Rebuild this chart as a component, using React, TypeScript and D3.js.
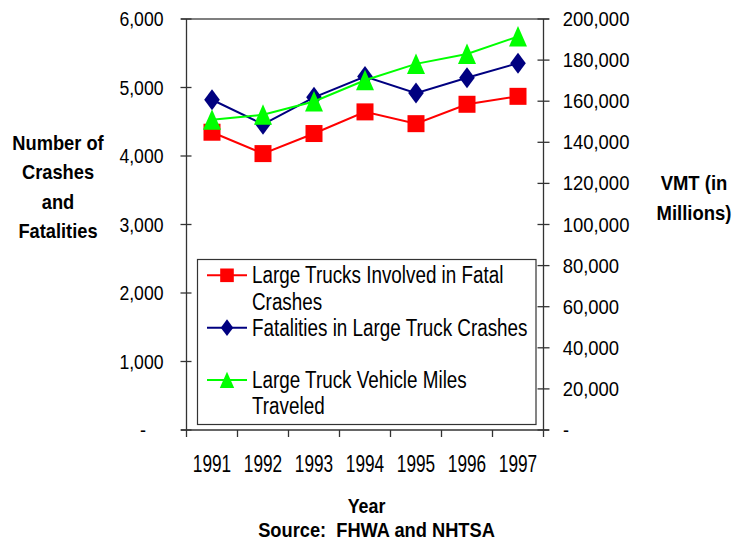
import React from 'react';
import * as d3 from 'd3';

const years = ['1991', '1992', '1993', '1994', '1995', '1996', '1997'];
const truckCrashes = [4347, 4035, 4328, 4644, 4472, 4755, 4871];
const fatalities = [4821, 4462, 4856, 5160, 4918, 5142, 5355];
const vmtMillions = [151000, 153384, 159888, 170216, 178156, 182971, 191477];
const leftTicks = [0, 1000, 2000, 3000, 4000, 5000, 6000];
const rightTicks = [0, 20000, 40000, 60000, 80000, 100000, 120000, 140000, 160000, 180000, 200000];
const legendLabels = [
  ['Large Trucks Involved in Fatal', 'Crashes'],
  ['Fatalities in Large Truck Crashes'],
  ['Large Truck Vehicle Miles', 'Traveled'],
];
const leftTitle = ['Number of', 'Crashes', 'and', 'Fatalities'];
const rightTitle = ['VMT (in', 'Millions)'];
const xTitle = 'Year';
const sourceText = 'Source:  FHWA and NHTSA';

const FONT = "'Liberation Sans', Arial, sans-serif";

const T = ({ x, y, size, anchor = 'start', bold = false, sx = 1, children }: any) => (
  <text
    transform={`translate(${x},${y}) scale(${sx},1)`}
    fontSize={size}
    textAnchor={anchor}
    fontWeight={bold ? 'bold' : 'normal'}
    fontFamily={FONT}
    fill="#000"
    style={{ whiteSpace: 'pre' }}
  >
    {children}
  </text>
);

type Shape = 'square' | 'diamond' | 'triangle';

const Marker = ({ shape, x, y, color, s = 1 }: { shape: Shape; x: number; y: number; color: string; s?: number }) => {
  if (shape === 'square') {
    const h = 8.5 * s;
    return <rect x={x - h} y={y - h} width={2 * h} height={2 * h} fill={color} />;
  }
  if (shape === 'diamond') {
    const w = 7.8 * s, h = 10.5 * s;
    return <path d={`M${x},${y - h}L${x + w},${y}L${x},${y + h}L${x - w},${y}Z`} fill={color} />;
  }
  const w = 9 * s, h = 10.5 * s;
  return <path d={`M${x},${y - h}L${x + w},${y + h - 0.5}L${x - w},${y + h - 0.5}Z`} fill={color} />;
};

export default function App() {
  const W = 735, H = 546;
  const x0 = 186.5, x1 = 543.5, yTop = 19, yBot = 430;

  const xBand = d3.scaleBand<string>().domain(years).range([x0, x1]);
  const xc = (d: string) => (xBand(d) as number) + xBand.bandwidth() / 2;
  const yL = d3.scaleLinear().domain([0, 6000]).range([yBot, yTop]);
  const yR = d3.scaleLinear().domain([0, 200000]).range([yBot, yTop]);
  const fmt = d3.format(',');

  const series = [
    { values: truckCrashes, scale: yL, color: '#FF0000', shape: 'square' as Shape },
    { values: fatalities, scale: yL, color: '#000080', shape: 'diamond' as Shape },
    { values: vmtMillions, scale: yR, color: '#00FF00', shape: 'triangle' as Shape },
  ];

  const lineGen = (scale: d3.ScaleLinear<number, number>) =>
    d3.line<number>().x((_, i) => xc(years[i])).y((v) => scale(v));

  const axisColor = '#333';
  const legX = 197.5, legY = 259.5, legW = 338.5, legH = 165;
  const legLineH = 26.2;
  const legBase0 = 283.3;
  const legendLineIndex = [0, 2, 4];

  return (
    <svg width={W} height={H} style={{ position: 'absolute', left: 0, top: 0, background: '#fff' }}>
      <rect x={0} y={0} width={W} height={H} fill="#fff" />

      {/* top border */}
      <line x1={181} x2={549} y1={yTop} y2={yTop} stroke="#555" strokeWidth={1.3} />

      {/* left axis */}
      <line x1={x0} x2={x0} y1={yTop} y2={yBot} stroke={axisColor} strokeWidth={1.3} />
      {leftTicks.map((t) => (
        <g key={'l' + t}>
          <line x1={x0 - 6} x2={x0 + 5} y1={yL(t)} y2={yL(t)} stroke={axisColor} strokeWidth={1.3} />
          {t === 0 ? (
            <T x={146} y={yL(t) + 7} size={20.5} anchor="end" sx={0.88}>-</T>
          ) : (
            <T x={163.5} y={yL(t) + 7} size={20.5} anchor="end" sx={0.86}>{fmt(t)}</T>
          )}
        </g>
      ))}

      {/* right axis */}
      <line x1={x1} x2={x1} y1={yTop} y2={yBot} stroke={axisColor} strokeWidth={1.3} />
      {rightTicks.map((t) => (
        <g key={'r' + t}>
          <line x1={x1 - 6} x2={x1 + 6} y1={yR(t)} y2={yR(t)} stroke={axisColor} strokeWidth={1.3} />
          {t === 0 ? (
            <T x={563} y={yR(t) + 7} size={20.5} sx={0.88}>-</T>
          ) : (
            <T x={562.7} y={yR(t) + 7} size={20.5} sx={0.9}>{fmt(t)}</T>
          )}
        </g>
      ))}

      {/* x axis */}
      <line x1={181} x2={549} y1={yBot} y2={yBot} stroke={axisColor} strokeWidth={1.3} />
      {years.map((y) => (
        <line key={'xt' + y} x1={xBand(y) as number} x2={xBand(y) as number} y1={yBot} y2={yBot + 7} stroke={axisColor} strokeWidth={1.3} />
      ))}
      <line x1={x1} x2={x1} y1={yBot} y2={yBot + 7} stroke={axisColor} strokeWidth={1.3} />
      {years.map((y) => (
        <T key={'xl' + y} x={xc(y)} y={472.3} size={23} anchor="middle" sx={0.75}>{y}</T>
      ))}

      {/* series */}
      {series.map((s, si) => (
        <g key={'s' + si}>
          <path d={lineGen(s.scale)(s.values) || ''} fill="none" stroke={s.color} strokeWidth={2} />
          {s.values.map((v, i) => (
            <Marker key={i} shape={s.shape} x={xc(years[i])} y={s.scale(v)} color={s.color} />
          ))}
        </g>
      ))}

      {/* legend */}
      <rect x={legX} y={legY} width={legW} height={legH} fill="#fff" stroke="#333" strokeWidth={1.2} />
      {series.map((s, si) => {
        const base = legBase0 + legendLineIndex[si] * legLineH;
        const my = base - 8;
        return (
          <g key={'lg' + si}>
            <line x1={207} x2={247} y1={my} y2={my} stroke={s.color} strokeWidth={2} />
            <Marker shape={s.shape} x={227} y={my} color={s.color} s={0.8} />
            {legendLabels[si].map((txt, li) => (
              <T key={li} x={252} y={base + li * legLineH} size={23} sx={0.82}>{txt}</T>
            ))}
          </g>
        );
      })}

      {/* titles */}
      {leftTitle.map((t, i) => (
        <T key={'lt' + i} x={58} y={150 + i * 29.4} size={21} bold anchor="middle" sx={0.87}>{t}</T>
      ))}
      {rightTitle.map((t, i) => (
        <T key={'rt' + i} x={694} y={190 + i * 30} size={21} bold anchor="middle" sx={0.88}>{t}</T>
      ))}
      <T x={366.5} y={513} size={21} bold anchor="middle" sx={0.85}>{xTitle}</T>
      <T x={376.5} y={537} size={21} bold anchor="middle" sx={0.87}>{sourceText}</T>
    </svg>
  );
}
